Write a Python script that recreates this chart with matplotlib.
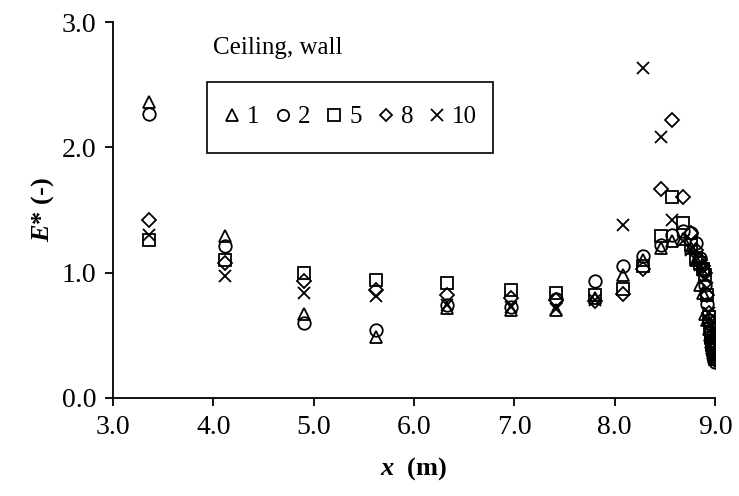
import numpy as np
import matplotlib
matplotlib.use('Agg')
import matplotlib.pyplot as plt
from matplotlib.patches import Rectangle

plt.rcParams['font.family'] = 'Liberation Serif'
plt.rcParams['mathtext.fontset'] = 'custom'
plt.rcParams['mathtext.rm'] = 'Liberation Serif'
plt.rcParams['mathtext.it'] = 'Liberation Serif:italic'
plt.rcParams['mathtext.bf'] = 'Liberation Serif:bold'
plt.rcParams['mathtext.bfit'] = 'Liberation Serif:italic:bold'

# positions along the ceiling/wall (m)
x_pos = [3.36, 4.12, 4.90, 5.62, 6.33, 6.97, 7.42, 7.80, 8.08, 8.28, 8.46, 8.57, 8.68,
         8.76, 8.81, 8.85, 8.88, 8.90, 8.92, 8.94, 8.95, 8.96, 8.97, 8.98, 8.99, 9.00]

# E* for each case
e_1 = [2.36, 1.29, 0.67, 0.49, 0.72, 0.70, 0.70, 0.80, 0.98, 1.10, 1.20, 1.25, 1.27,
       1.20, 1.10, 0.90, 0.84, 0.67, 0.62, 0.55, 0.50, 0.45, 0.40, 0.36, 0.33, 0.31]
e_2 = [2.27, 1.21, 0.60, 0.54, 0.74, 0.73, 0.79, 0.93, 1.05, 1.13, 1.22, 1.30, 1.33,
       1.32, 1.24, 1.12, 1.02, 0.90, 0.75, 0.62, 0.52, 0.45, 0.40, 0.36, 0.32, 0.29]
e_5 = [1.26, 1.10, 1.00, 0.94, 0.92, 0.86, 0.84, 0.82, 0.87, 1.05, 1.29, 1.60, 1.40,
       1.22, 1.12, 1.08, 1.03, 0.98, 0.82, 0.65, 0.55, 0.48, 0.42, 0.38, 0.34, 0.31]
e_8 = [1.42, 1.08, 0.93, 0.86, 0.82, 0.80, 0.78, 0.77, 0.83, 1.03, 1.67, 2.22, 1.60,
       1.32, 1.18, 1.10, 1.05, 1.00, 0.82, 0.68, 0.58, 0.50, 0.44, 0.38, 0.34, 0.30]
e_10 = [1.30, 0.97, 0.84, 0.81, 0.74, 0.73, 0.71, 0.78, 1.38, 2.63, 2.08, 1.42, 1.25,
        1.18, 1.10, 1.06, 1.02, 0.96, 0.88, 0.68, 0.60, 0.52, 0.45, 0.40, 0.35, 0.32]

cases = ['1', '2', '5', '8', '10']
markers = ['^', 'o', 's', 'D', 'x']
sizes = [9, 9, 9, 7, 9]
series = [e_1, e_2, e_5, e_8, e_10]

fig = plt.figure(figsize=(7.39, 4.96), dpi=100)
ax = fig.add_axes([0.153, 0.1976, 0.8145, 0.758])

for lab, m, ms, e in zip(cases, markers, sizes, series):
    if m == 'x':
        ax.plot(x_pos, e, ls='none', marker=m, ms=ms, color='black', mew=1.3, label=lab)
    else:
        ax.plot(x_pos, e, ls='none', marker=m, ms=ms, mfc='none', mec='black', mew=1.3,
                label=lab)

ax.set_xlim(3.0, 9.0)
ax.set_ylim(0.0, 3.0)
ax.set_xticks(np.arange(3.0, 9.01, 1.0))
ax.set_yticks(np.arange(0.0, 3.01, 1.0))
ax.xaxis.set_major_formatter(plt.FormatStrFormatter('%.1f'))
ax.yaxis.set_major_formatter(plt.FormatStrFormatter('%.1f'))
ax.tick_params(direction='out', length=6, width=1.3, labelsize=20, pad=6)
for s in ['top', 'right']:
    ax.spines[s].set_visible(False)
for s in ['left', 'bottom']:
    ax.spines[s].set_linewidth(1.3)

ax.set_xlabel(r'$\mathbfit{x}$  (m)', fontsize=19, fontweight='bold', labelpad=11)
ax.set_ylabel(r'$\mathbfit{E}$* (-)', fontsize=19, fontweight='bold', labelpad=4)

ax.text(4.0, 2.79, 'Ceiling, wall', fontsize=18, ha='left', va='center')

# legend box drawn separately so its size can be set directly
box = Rectangle((207 / 739, 1 - 153 / 496), 286 / 739, 71 / 496, transform=fig.transFigure,
                fill=False, edgecolor='black', lw=1.2)
fig.patches.append(box)
leg = ax.legend(loc='center', bbox_to_anchor=(350 / 739, 1 - 117 / 496),
                bbox_transform=fig.transFigure, ncol=5, fontsize=18, frameon=False,
                handlelength=0.7, handletextpad=0.25, columnspacing=0.6,
                markerscale=0.9, borderaxespad=0, borderpad=0)

fig.savefig('out.png', dpi=100)
